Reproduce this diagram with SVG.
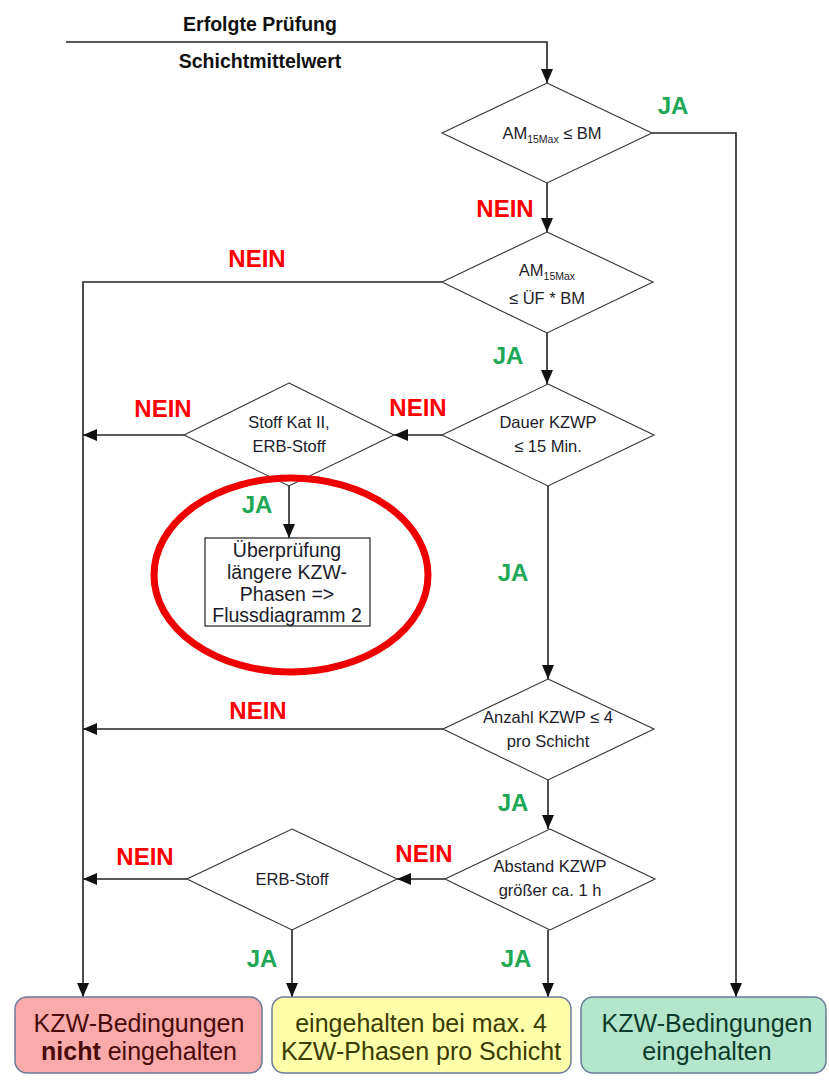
<svg xmlns="http://www.w3.org/2000/svg" width="829" height="1080" viewBox="0 0 829 1080">
  <defs>
    <marker id="arrow" markerUnits="userSpaceOnUse" viewBox="0 0 14 12" markerWidth="14" markerHeight="12" refX="14" refY="6" orient="auto">
      <path d="M0,0 L14,6 L0,12 z" fill="#111"/>
    </marker>
    <style>
      .conn { fill: none; stroke: #222; stroke-width: 1.6; }
      .dia { fill: #fff; stroke: #333; stroke-width: 1.1; }
      .dt { font-family: "Liberation Sans", Arial, sans-serif; font-size: 16.5px; fill: #1c1c2a; text-anchor: middle; }
      .sub { font-size: 10.5px; }
      .bx { font-size: 19.5px; }
      .hdr { font-family: "Liberation Sans", Arial, sans-serif; font-size: 19.5px; font-weight: bold; fill: #111; text-anchor: middle; }
      .no { font-family: "Liberation Sans", Arial, sans-serif; font-size: 24px; font-weight: bold; fill: #ff0000; text-anchor: middle; }
      .yes { font-family: "Liberation Sans", Arial, sans-serif; font-size: 24px; font-weight: bold; fill: #20a856; text-anchor: middle; }
      .bt { font-family: "Liberation Sans", Arial, sans-serif; font-size: 25px; text-anchor: middle; }
      .box { stroke: #6b7b99; stroke-width: 1.5; }
    </style>
  </defs>

  <rect width="829" height="1080" fill="#fff"/>

  <!-- header -->
  <text class="hdr" x="260" y="31">Erfolgte Prüfung</text>
  <text class="hdr" x="260" y="68">Schichtmittelwert</text>

  <!-- connectors -->
  <g id="connectors">
    <path class="conn" d="M66,42 H547 V83" marker-end="url(#arrow)"/>
    <path class="conn" d="M652,133 H736 V997" marker-end="url(#arrow)"/>
    <path class="conn" d="M547,183 V232" marker-end="url(#arrow)"/>
    <path class="conn" d="M442,282 H83 V997" marker-end="url(#arrow)"/>
    <path class="conn" d="M547,333 V384" marker-end="url(#arrow)"/>
    <path class="conn" d="M442,435 H394" marker-end="url(#arrow)"/>
    <path class="conn" d="M184,435 H83" marker-end="url(#arrow)"/>
    <path class="conn" d="M289,485 V538" marker-end="url(#arrow)"/>
    <path class="conn" d="M548,486 V679" marker-end="url(#arrow)"/>
    <path class="conn" d="M443,729 H83" marker-end="url(#arrow)"/>
    <path class="conn" d="M548,780 V829" marker-end="url(#arrow)"/>
    <path class="conn" d="M445,879 H397" marker-end="url(#arrow)"/>
    <path class="conn" d="M187,879 H83" marker-end="url(#arrow)"/>
    <path class="conn" d="M292,930 V997" marker-end="url(#arrow)"/>
    <path class="conn" d="M548,930 V997" marker-end="url(#arrow)"/>
  </g>

  <!-- branch labels -->
  <g id="labels">
    <text class="yes" x="673" y="114">JA</text>
    <text class="no" x="505" y="217">NEIN</text>
    <text class="no" x="257" y="267">NEIN</text>
    <text class="yes" x="508" y="364">JA</text>
    <text class="no" x="163" y="417">NEIN</text>
    <text class="no" x="418" y="416">NEIN</text>
    <text class="yes" x="257" y="513">JA</text>
    <text class="yes" x="513" y="581">JA</text>
    <text class="no" x="258" y="719">NEIN</text>
    <text class="yes" x="513" y="811">JA</text>
    <text class="no" x="145" y="865">NEIN</text>
    <text class="no" x="424" y="862">NEIN</text>
    <text class="yes" x="262" y="967">JA</text>
    <text class="yes" x="516" y="967">JA</text>
  </g>

  <!-- decisions -->
  <g id="d-am-bm">
    <polygon class="dia" points="547,83 652,133 547,183 442,133"/>
    <text class="dt" x="552" y="139">AM<tspan class="sub" dy="4">15Max</tspan><tspan dy="-4"> ≤ BM</tspan></text>
  </g>
  <g id="d-am-uef">
    <polygon class="dia" points="547,232 653,282 547,333 442,282"/>
    <text class="dt" x="547" y="276">AM<tspan class="sub" dy="4">15Max</tspan></text>
    <text class="dt" x="547" y="304">≤ ÜF * BM</text>
  </g>
  <g id="d-dauer">
    <polygon class="dia" points="548,384 654,435 548,486 442,435"/>
    <text class="dt" x="548" y="428">Dauer KZWP</text>
    <text class="dt" x="548" y="452">≤ 15 Min.</text>
  </g>
  <g id="d-stoff">
    <polygon class="dia" points="289,383 394,435 289,486 184,435"/>
    <text class="dt" x="289" y="428">Stoff Kat II,</text>
    <text class="dt" x="289" y="452">ERB-Stoff</text>
  </g>
  <g id="d-anzahl">
    <polygon class="dia" points="548,679 654,729 548,780 443,729"/>
    <text class="dt" x="548" y="723">Anzahl KZWP ≤ 4</text>
    <text class="dt" x="548" y="747">pro Schicht</text>
  </g>
  <g id="d-abstand">
    <polygon class="dia" points="550,829 655,879 550,930 445,879"/>
    <text class="dt" x="550" y="872">Abstand KZWP</text>
    <text class="dt" x="550" y="896">größer ca. 1 h</text>
  </g>
  <g id="d-erb">
    <polygon class="dia" points="292,829 397,879 292,930 187,879"/>
    <text class="dt" x="292" y="885">ERB-Stoff</text>
  </g>

  <!-- follow-up check -->
  <g id="n-flussdiagramm">
    <rect x="205" y="538" width="165" height="88" fill="#fff" stroke="#222" stroke-width="1.2"/>
    <text class="dt bx" x="287" y="557">Überprüfung</text>
    <text class="dt bx" x="287" y="579">längere KZW-</text>
    <text class="dt bx" x="287" y="601">Phasen =&gt;</text>
    <text class="dt bx" x="287" y="622">Flussdiagramm 2</text>
  </g>
  <ellipse id="highlight" cx="291" cy="575" rx="137" ry="97" fill="none" stroke="#ee0000" stroke-width="7"/>

  <!-- outcomes -->
  <g id="r-nicht">
    <rect class="box" x="15" y="997" width="247" height="76" rx="12" fill="#f9aaaa"/>
    <text class="bt" x="139" y="1032" fill="#4a0a0a">KZW-Bedingungen</text>
    <text class="bt" x="139" y="1060" fill="#4a0a0a"><tspan font-weight="bold">nicht</tspan> eingehalten</text>
  </g>
  <g id="r-max4">
    <rect class="box" x="272" y="997" width="299" height="76" rx="12" fill="#ffffaa"/>
    <text class="bt" x="421" y="1032" fill="#3b3b00">eingehalten bei max. 4</text>
    <text class="bt" x="421" y="1060" fill="#3b3b00">KZW-Phasen pro Schicht</text>
  </g>
  <g id="r-ok">
    <rect class="box" x="581" y="997" width="245" height="76" rx="12" fill="#b3e6cc"/>
    <text class="bt" x="707" y="1032" fill="#0b3b2b">KZW-Bedingungen</text>
    <text class="bt" x="707" y="1060" fill="#0b3b2b">eingehalten</text>
  </g>
</svg>
